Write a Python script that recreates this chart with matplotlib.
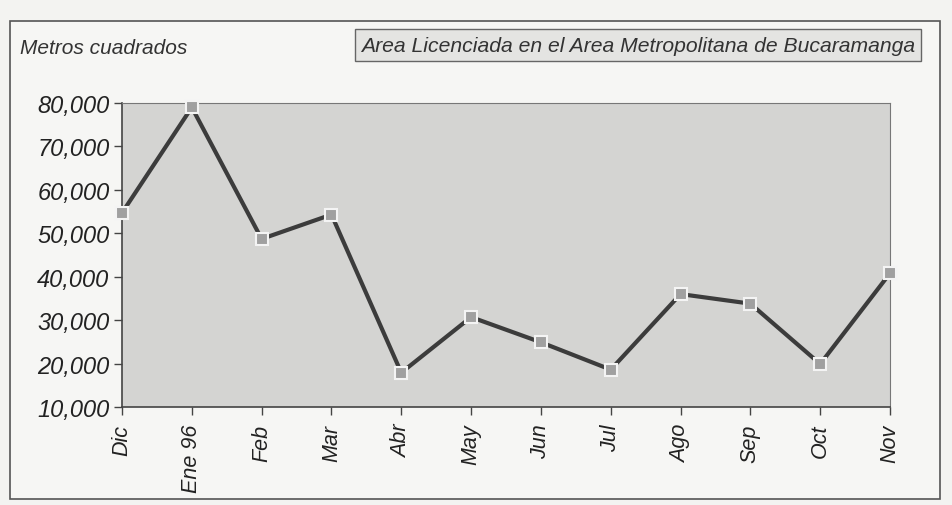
import matplotlib
matplotlib.use("Agg")
import matplotlib.pyplot as plt
from matplotlib.patches import Rectangle
from matplotlib.ticker import FuncFormatter

months = ["Dic", "Ene 96", "Feb", "Mar", "Abr", "May", "Jun", "Jul", "Ago", "Sep", "Oct", "Nov"]
area_m2 = [54700, 79000, 48700, 54300, 17900, 30700, 24900, 18600, 36000, 33800, 19900, 40800]
y_ticks = [10000, 20000, 30000, 40000, 50000, 60000, 70000, 80000]

plt.rcParams['font.family'] = ['Liberation Sans', 'DejaVu Sans']

fig = plt.figure(figsize=(9.52, 5.06), dpi=100)
fig.patch.set_facecolor('#f3f3f1')

# outer chart frame
frame = Rectangle((10/952, 1-500/506), 930/952, 478/506, transform=fig.transFigure,
                  facecolor='#f6f6f4', edgecolor='#555555', linewidth=1.2, zorder=-5)
fig.patches.append(frame)

ax = fig.add_axes([122/952, 1-408/506, 768/952, 304/506])
ax.set_zorder(2)
ax.set_facecolor('#d4d4d2')
x = list(range(len(months)))
ax.plot(x, area_m2, color='#3c3c3c', linewidth=3, marker='s', markersize=8,
        markerfacecolor='#a0a0a0', markeredgecolor='#f4f4f4', markeredgewidth=1.5,
        clip_on=False, zorder=3)

ax.set_xlim(0, len(months) - 1)
ax.set_ylim(10000, 80000)
ax.set_xticks(x)
ax.set_xticklabels(months, rotation=90, fontsize=15.5, style='italic', color='#222222')
ax.set_yticks(y_ticks)
ax.yaxis.set_major_formatter(FuncFormatter(lambda v, p: f"{int(v):,}"))
for lab in ax.get_yticklabels():
    lab.set_fontsize(17)
    lab.set_style('italic')
    lab.set_color('#222222')
ax.tick_params(axis='both', direction='out', length=6, width=1, color='#444444')
ax.tick_params(axis='x', pad=6)
ax.tick_params(axis='y', pad=3)

for side in ['top', 'right']:
    ax.spines[side].set_color('#777777')
    ax.spines[side].set_linewidth(0.8)
for side in ['left', 'bottom']:
    ax.spines[side].set_color('#444444')
    ax.spines[side].set_linewidth(1.2)

fig.text(20/952, 1-48/506, "Metros cuadrados", fontsize=15, style='italic',
         color='#333333', va='center', ha='left', zorder=3)

fig.text(638/952, 1-46/506, "Area Licenciada en el Area Metropolitana de Bucaramanga",
         fontsize=15.2, style='italic', color='#333333', va='center', ha='center', zorder=3,
         bbox=dict(boxstyle='square,pad=0.3', facecolor='#e4e4e2', edgecolor='#666666', linewidth=1))

fig.savefig("out.png", dpi=100, facecolor=fig.get_facecolor())
